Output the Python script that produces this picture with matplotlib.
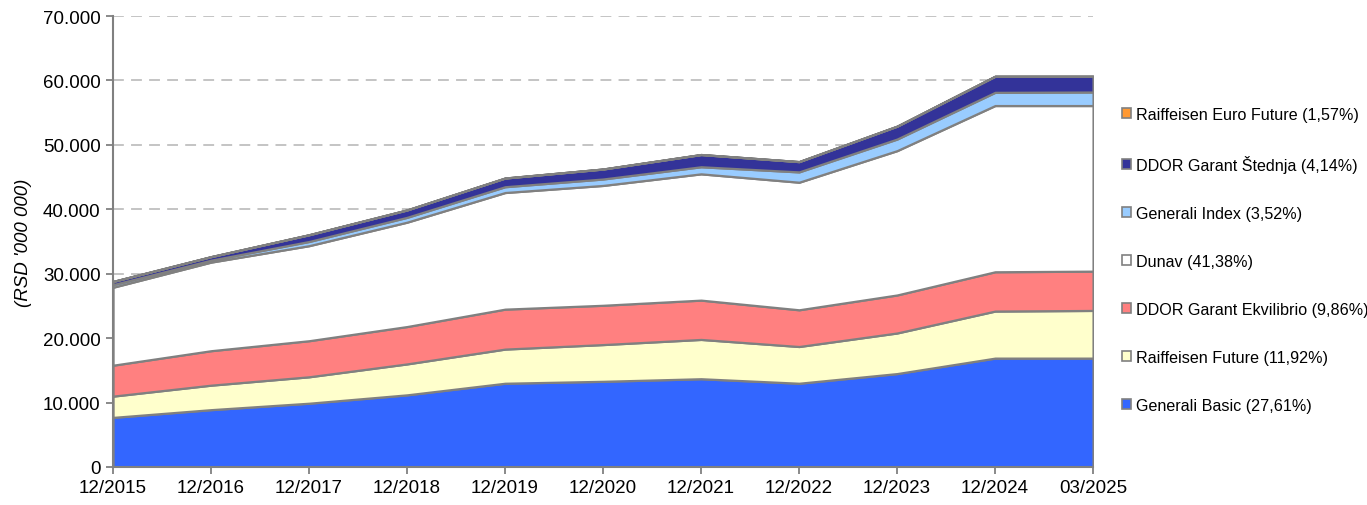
import matplotlib
matplotlib.use("Agg")
import matplotlib.pyplot as plt
from matplotlib.patches import Patch
from matplotlib.ticker import FuncFormatter, MultipleLocator

plt.rcParams["font.family"] = ["Liberation Sans", "DejaVu Sans"]

# RSD '000 000
dates = ["12/2015", "12/2016", "12/2017", "12/2018", "12/2019", "12/2020",
         "12/2021", "12/2022", "12/2023", "12/2024", "03/2025"]
generali_basic = [7700, 8900, 9900, 11200, 13000, 13300, 13700, 13000, 14500, 16900, 16900]
raiffeisen_future = [3300, 3800, 4100, 4800, 5300, 5700, 6100, 5700, 6300, 7300, 7400]
ddor_ekvilibrio = [4800, 5350, 5600, 5800, 6200, 6100, 6100, 5700, 5900, 6100, 6100]
dunav = [12100, 13750, 14750, 16200, 18100, 18600, 19600, 19800, 22400, 25800, 25700]
generali_index = [400, 300, 650, 750, 900, 1000, 1100, 1600, 1800, 2050, 2100]
ddor_stednja = [500, 550, 1050, 1150, 1350, 1550, 1900, 1600, 2000, 2500, 2450]
raiffeisen_euro = [0, 0, 0, 0, 0, 0, 0, 0, 0, 0, 0]  # not visible in the chart

labels = ["Generali Basic (27,61%)", "Raiffeisen Future (11,92%)",
          "DDOR Garant Ekvilibrio (9,86%)", "Dunav (41,38%)",
          "Generali Index (3,52%)", "DDOR Garant Štednja (4,14%)",
          "Raiffeisen Euro Future (1,57%)"]
colors = ["#3366FF", "#FFFFCC", "#FF8080", "#FFFFFF", "#99CCFF", "#333399", "#FF9933"]
series = [generali_basic, raiffeisen_future, ddor_ekvilibrio, dunav,
          generali_index, ddor_stednja, raiffeisen_euro]

fig = plt.figure(figsize=(13.67, 5.06), dpi=100)
ax = fig.add_axes([0.0827, 0.0751, 0.7169, 0.8913])

x = list(range(len(dates)))
ax.stackplot(x, *series, colors=colors, edgecolor="#808080", linewidth=1.6, zorder=2)

ax.set_xlim(0, len(dates) - 1)
ax.set_ylim(0, 70000)
ax.set_xticks(x)
ax.set_xticklabels(dates)
ax.yaxis.set_major_locator(MultipleLocator(10000))
ax.yaxis.set_major_formatter(FuncFormatter(lambda v, p: f"{int(v):,}".replace(",", ".")))

ax.grid(axis="y", color="#BFBFBF", linestyle=(0, (6, 4)), linewidth=1.3, zorder=0)
ax.set_axisbelow(True)
for s in ("top", "right"):
    ax.spines[s].set_visible(False)
for s in ("left", "bottom"):
    ax.spines[s].set_color("#808080")
    ax.spines[s].set_linewidth(1.5)
    ax.spines[s].set_zorder(3)
ax.tick_params(axis="both", direction="out", length=5, width=1.3, color="#808080",
               labelsize=13.5, pad=4)

ax.set_ylabel("(RSD '000 000)", fontsize=13.5, style="italic", labelpad=8)

handles = [Patch(facecolor=c, edgecolor="#808080", linewidth=1.2) for c in colors]
fig.legend(handles[::-1], labels[::-1], loc="upper left",
           bbox_to_anchor=(0.821, 0.787), frameon=False, fontsize=11.6,
           handlelength=0.55, handleheight=0.55, handletextpad=0.3,
           labelspacing=2.05, borderpad=0, borderaxespad=0)

fig.savefig("out.png", dpi=100)
